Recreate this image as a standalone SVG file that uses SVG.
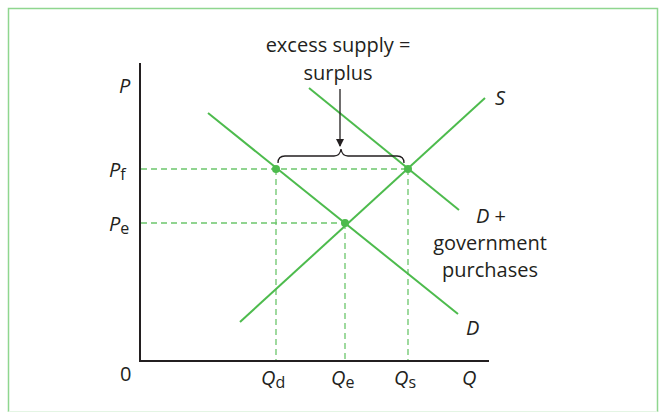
<svg xmlns="http://www.w3.org/2000/svg" width="663" height="413" viewBox="0 0 663 413">
<style>
.t{font-family:"Open Sans","Noto Sans",sans-serif;font-size:20px;fill:#231f20}
.i{font-style:italic}
.sub{font-size:16px;font-style:normal}
.curve{stroke:#4dbb4d;stroke-width:2;fill:none}
.dash{stroke:#6cc66c;stroke-width:1.3;stroke-dasharray:6 4;fill:none}
.axis{stroke:#231f20;stroke-width:2;fill:none}
.dot{fill:#4dbb4d}
</style>
<defs>
<marker id="ah" markerWidth="8" markerHeight="10" refX="7" refY="4" orient="auto" markerUnits="userSpaceOnUse">
<path d="M0,0 L8,4 L0,8 Z" fill="#231f20"/>
</marker>
</defs>
<rect x="0" y="0" width="663" height="413" fill="#fff"/>
<path d="M8.5,412 V8.5 H657.5 V412" fill="none" stroke="#8fd68f" stroke-width="1.5"/>
<path d="M8.5,411.5 H657.5" fill="none" stroke="#e4f5e4" stroke-width="1"/>
<g id="axes">
<path class="axis" d="M140,63 V361 H489"/>
</g>
<g id="guides">
<path class="dash" d="M141,169 H408 M141,223 H345 M276,169 V360 M345,223 V360 M408,169 V360"/>
</g>
<g id="curve-S"><path class="curve" d="M240,322 L485,98"/></g>
<g id="curve-D"><path class="curve" d="M208,113 L458,314"/></g>
<g id="curve-Dg"><path class="curve" d="M309,88 L459,210"/></g>
<g id="points">
<circle class="dot" cx="276" cy="169" r="4"/>
<circle class="dot" cx="345" cy="223" r="4"/>
<circle class="dot" cx="408" cy="169" r="4"/>
</g>
<g id="connectors">
<path d="M340,89 V146" stroke="#231f20" stroke-width="1.3" fill="none" marker-end="url(#ah)"/>
<path d="M278,163 Q278,156 285,156 H334 Q340,156 341,149 Q342,156 348,156 H397 Q404,156 404,163" stroke="#231f20" stroke-width="1.3" fill="none"/>
</g>
<g id="label-top">
<text class="t" x="338" y="52" text-anchor="middle">excess supply =</text>
<text class="t" x="338" y="80" text-anchor="middle">surplus</text>
</g>
<g id="labels-axes">
<text class="t i" x="119" y="93">P</text>
<text class="t" x="109" y="177"><tspan class="i">P</tspan><tspan class="sub" dy="3">f</tspan></text>
<text class="t" x="109" y="231"><tspan class="i">P</tspan><tspan class="sub" dy="3">e</tspan></text>
<text class="t" x="120" y="381">0</text>
<text class="t" x="261" y="385"><tspan class="i">Q</tspan><tspan class="sub" dy="3">d</tspan></text>
<text class="t" x="331" y="385"><tspan class="i">Q</tspan><tspan class="sub" dy="3">e</tspan></text>
<text class="t" x="394" y="385"><tspan class="i">Q</tspan><tspan class="sub" dy="3">s</tspan></text>
<text class="t i" x="462" y="385">Q</text>
</g>
<g id="labels-curves">
<text class="t i" x="495" y="105">S</text>
<text class="t" x="476" y="223"><tspan class="i">D</tspan> +</text>
<text class="t" x="490" y="250" text-anchor="middle">government</text>
<text class="t" x="490" y="277" text-anchor="middle">purchases</text>
<text class="t i" x="466" y="335">D</text>
</g>
</svg>
